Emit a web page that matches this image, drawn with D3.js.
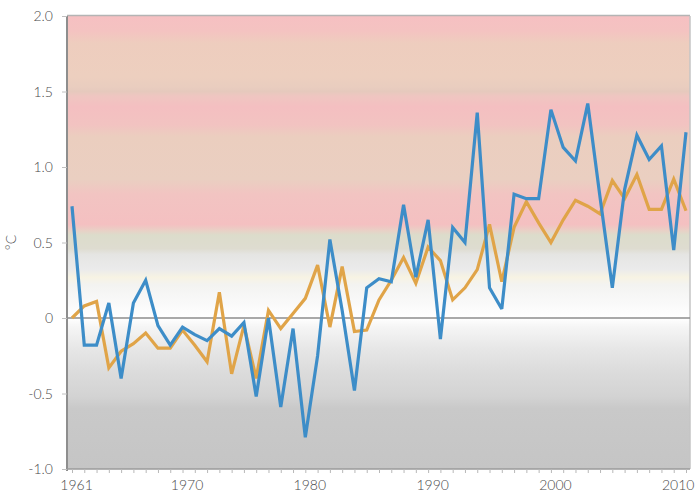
<!DOCTYPE html>
<html>
<head>
<meta charset="utf-8">
<script src="https://cdn.jsdelivr.net/npm/d3@7"></script>
<style>
  html, body { margin: 0; padding: 0; background: #ffffff; }
  svg { display: block; }
  text { font-family: Lato, "Open Sans", sans-serif; font-weight: 300; fill: #4a4a4a; }
</style>
</head>
<body>
<svg id="chart" width="699" height="497"></svg>
<script>
const years = [1961,1962,1963,1964,1965,1966,1967,1968,1969,1970,
  1971,1972,1973,1974,1975,1976,1977,1978,1979,1980,
  1981,1982,1983,1984,1985,1986,1987,1988,1989,1990,
  1991,1992,1993,1994,1995,1996,1997,1998,1999,2000,
  2001,2002,2003,2004,2005,2006,2007,2008,2009,2010,2011];

const blueSeries = [0.74,-0.18,-0.18,0.10,-0.40,0.10,0.25,-0.05,-0.18,-0.06,
  -0.11,-0.15,-0.07,-0.12,-0.03,-0.52,0.00,-0.59,-0.07,-0.79,
  -0.25,0.52,0.05,-0.48,0.20,0.26,0.24,0.75,0.27,0.65,
  -0.14,0.60,0.50,1.36,0.20,0.06,0.82,0.79,0.79,1.38,
  1.13,1.04,1.42,0.80,0.20,0.85,1.21,1.05,1.14,0.45,1.23];

const orangeSeries = [0.00,0.08,0.11,-0.33,-0.22,-0.17,-0.10,-0.20,-0.20,-0.08,
  -0.18,-0.29,0.17,-0.37,-0.05,-0.40,0.05,-0.07,0.03,0.13,
  0.35,-0.06,0.34,-0.09,-0.08,0.12,0.25,0.40,0.23,0.47,
  0.38,0.12,0.20,0.32,0.62,0.24,0.60,0.77,0.63,0.50,
  0.65,0.78,0.74,0.69,0.91,0.79,0.95,0.72,0.72,0.92,0.71];

const yTickValues = [-1.0, -0.5, 0, 0.5, 1.0, 1.5, 2.0];
const yTickLabels = ["-1.0", "-0.5", "0", "0.5", "1.0", "1.5", "2.0"];
const xTickValues = [1961, 1970, 1980, 1990, 2000, 2010];
const yUnit = "°C";

// background colour bands (value in °C -> colour)
const bandStops = [
  [2.00, "#f6c0c2"], [1.90, "#f4c3c1"], [1.82, "#eecdbe"], [1.60, "#edcfbf"],
  [1.53, "#e9cdbf"], [1.50, "#e6c9bd"], [1.47, "#efc6c1"], [1.40, "#f4bfc1"],
  [1.28, "#f2c3c1"], [1.20, "#ebcebf"], [0.92, "#eacfc1"], [0.82, "#f2c4c2"],
  [0.62, "#f4c0c1"], [0.58, "#e9d0c6"], [0.55, "#dcdccb"], [0.46, "#dedcd0"],
  [0.42, "#e5e5e3"], [0.32, "#ebebeb"], [0.27, "#f7f3e3"], [0.22, "#f3f3f1"],
  [0.10, "#f9f9f9"], [0.00, "#ffffff"], [-0.06, "#f5f5f5"], [-0.20, "#e7e7e7"],
  [-0.35, "#dcdcdc"], [-0.52, "#d3d3d3"], [-0.60, "#c9c9c9"], [-1.00, "#c5c5c5"]
];

const svg = d3.select("#chart");
const plot = { left: 67, right: 690, top: 16, bottom: 469 };

const x = d3.scaleLinear().domain([1961, 2011]).range([72, 686]);
const y = d3.scaleLinear().domain([-1, 2]).range([plot.bottom, plot.top]);

// gradient background
const defs = svg.append("defs");
const grad = defs.append("linearGradient")
  .attr("id", "bg").attr("gradientUnits", "userSpaceOnUse")
  .attr("x1", 0).attr("x2", 0).attr("y1", y(2)).attr("y2", y(-1));
grad.selectAll("stop").data(bandStops).join("stop")
  .attr("offset", d => (y(d[0]) - y(2)) / (y(-1) - y(2)))
  .attr("stop-color", d => d[1]);

svg.append("rect")
  .attr("x", plot.left).attr("y", plot.top)
  .attr("width", plot.right - plot.left).attr("height", plot.bottom - plot.top)
  .attr("fill", "url(#bg)");

// frame lines
svg.append("line").attr("x1", plot.left).attr("x2", plot.right)
  .attr("y1", plot.top - 0.5).attr("y2", plot.top - 0.5)
  .attr("stroke", "#b4b4b4").attr("stroke-width", 1.5);
svg.append("line").attr("x1", plot.right).attr("x2", plot.right)
  .attr("y1", plot.top).attr("y2", plot.bottom)
  .attr("stroke", "#c4c4c4").attr("stroke-width", 1.5);

// zero line
svg.append("line").attr("x1", plot.left).attr("x2", plot.right)
  .attr("y1", y(0)).attr("y2", y(0))
  .attr("stroke", "#8c8c8c").attr("stroke-width", 1.6);

// y axis
const yAxis = d3.axisLeft(y).tickValues(yTickValues)
  .tickFormat((d, i) => yTickLabels[i]).tickSize(5).tickPadding(9);
const gy = svg.append("g").attr("transform", `translate(${plot.left},0)`).call(yAxis);
gy.select(".domain").attr("stroke", "#8e8e8e").attr("stroke-width", 2)
  .attr("d", `M0,${plot.top}V${plot.bottom + 2}`);
gy.selectAll(".tick line").attr("stroke", "#c0c0c0");
gy.selectAll(".tick text").style("font-size", "14px").attr("dy", "0.35em")
  .style("font-family", "Lato, 'Open Sans', sans-serif").style("font-weight", 300).attr("fill", "#4a4a4a");

// x axis minor ticks (every year)
const xMinor = d3.axisBottom(x).tickValues(years).tickSize(4).tickFormat("");
const gxm = svg.append("g").attr("transform", `translate(0,${plot.bottom})`).call(xMinor);
gxm.select(".domain").attr("stroke", "#9a9a9a").attr("stroke-width", 1.5)
  .attr("d", `M${plot.left},0H${plot.right}`);
gxm.selectAll(".tick line").attr("stroke", "#b8b8b8");

// x axis labels
const xAxis = d3.axisBottom(x).tickValues(xTickValues).tickFormat(d3.format("d")).tickSize(0).tickPadding(11);
const gx = svg.append("g").attr("transform", `translate(0,${plot.bottom})`).call(xAxis);
gx.select(".domain").remove();
gx.selectAll(".tick text").style("font-size", "14px").attr("dx", 4)
  .style("font-family", "Lato, 'Open Sans', sans-serif").style("font-weight", 300).attr("fill", "#4a4a4a");

// unit label
svg.append("text")
  .attr("transform", `translate(16,${y(0.5)}) rotate(-90)`)
  .attr("text-anchor", "middle")
  .style("font-size", "14px")
  .text(yUnit);

// lines
const line = d3.line().x((d, i) => x(years[i])).y(d => y(d));
svg.append("path").datum(orangeSeries)
  .attr("d", line).attr("fill", "none")
  .attr("stroke", "#e0a448").attr("stroke-width", 3.2)
  .attr("stroke-linejoin", "miter").attr("stroke-miterlimit", 3);
svg.append("path").datum(blueSeries)
  .attr("d", line).attr("fill", "none")
  .attr("stroke", "#3d8dc8").attr("stroke-width", 3.2)
  .attr("stroke-linejoin", "miter").attr("stroke-miterlimit", 3);
</script>
</body>
</html>
